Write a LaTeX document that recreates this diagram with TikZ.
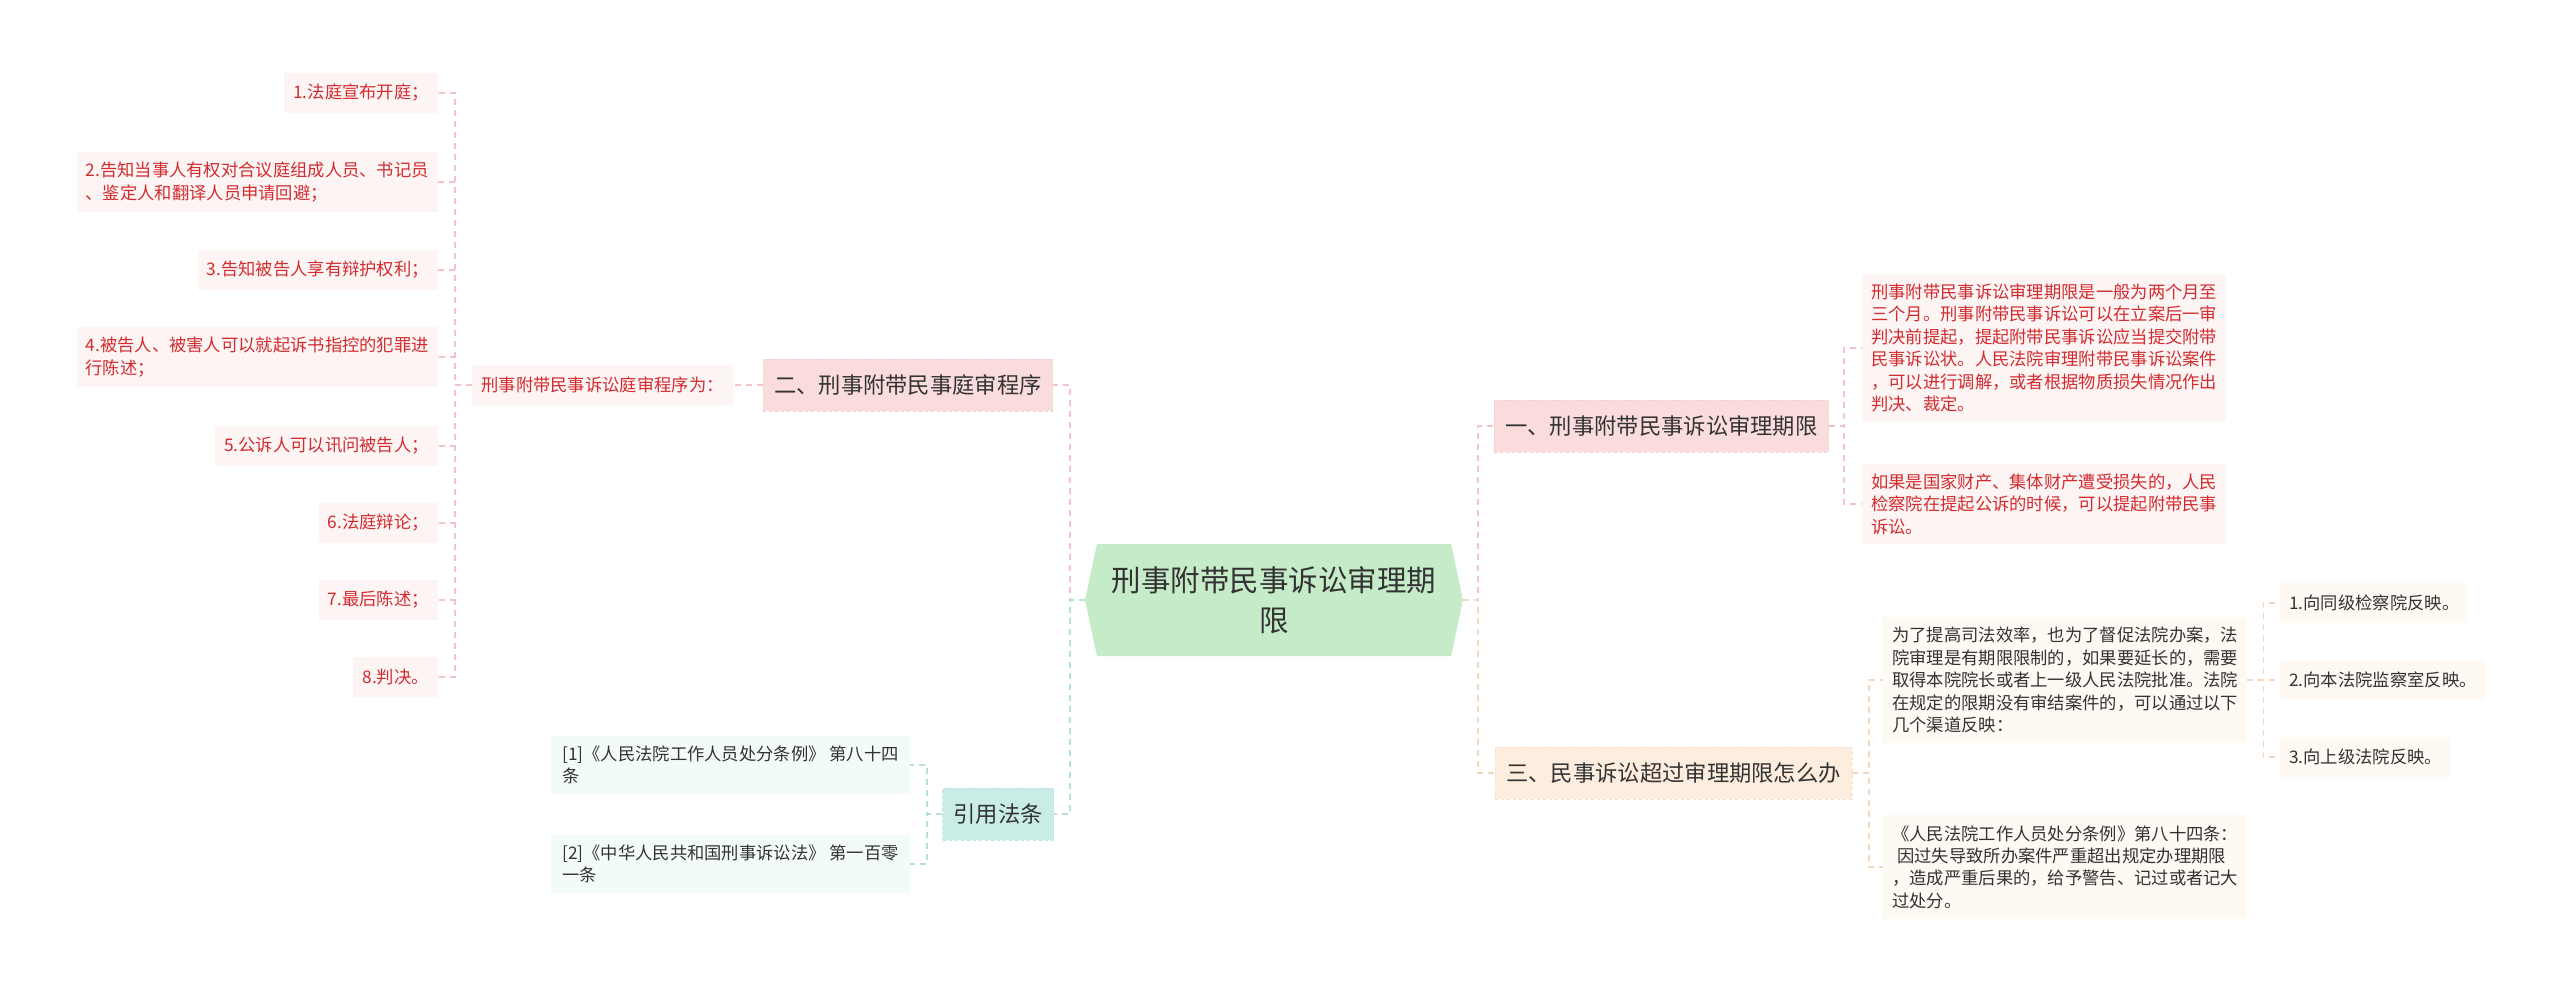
\documentclass[tikz,border=0pt]{standalone}
\usepackage{fontspec}
\newfontfamily\cjk{Noto Sans CJK SC}
\usepackage{xcolor}
\usetikzlibrary{positioning,shapes.symbols}
\definecolor{txt}{HTML}{333333}
\definecolor{redtxt}{HTML}{D22C30}
\definecolor{hubbg}{HTML}{C5EBC8}
\definecolor{pinkbg}{HTML}{FADCDC}
\definecolor{pinkedge}{HTML}{F5CFD0}
\definecolor{pinkln}{HTML}{F2C4C7}
\definecolor{pinklite}{HTML}{FDF4F4}
\definecolor{peachbg}{HTML}{FCEDDF}
\definecolor{peachedge}{HTML}{F8E0CB}
\definecolor{peachln}{HTML}{F5D7BE}
\definecolor{peachlite}{HTML}{FEF9F3}
\definecolor{tealbg}{HTML}{C9ECE6}
\definecolor{tealedge}{HTML}{BCE3DC}
\definecolor{tealln}{HTML}{B4E0D9}
\definecolor{teallite}{HTML}{F3FAFA}
\tikzset{%
  % classes
  hub/.style={shape=signal, signal to=west and east, signal pointer angle=156,
    fill=hubbg, text=txt, align=center, minimum width=378pt, minimum height=112pt,
    inner sep=0pt, font=\cjk\fontsize{29.5}{40}\selectfont},
  topic/.style={draw, dashed, line width=0.6pt, minimum height=52pt, inner xsep=11pt,
    text=txt, font=\cjk\fontsize{22.3}{26}\selectfont},
  pinktopic/.style={topic, fill=pinkbg, draw=pinkedge},
  peachtopic/.style={topic, fill=peachbg, draw=peachedge},
  tealtopic/.style={topic, fill=tealbg, draw=tealedge},
  leaf/.style={align=left, inner xsep=9pt, inner ysep=10pt, minimum height=40pt,
    font=\cjk\fontsize{17.3}{22.4}\selectfont},
  redleaf/.style={leaf, fill=pinklite, text=redtxt},
  peachleaf/.style={leaf, fill=peachlite, text=txt},
  tealleaf/.style={leaf, fill=teallite, text=txt, inner xsep=11pt},
  % edge styles
  link/.style={line width=1.6pt, dash pattern=on 6pt off 5pt},
  pinklink/.style={link, draw=pinkln},
  peachlink/.style={link, draw=peachln},
  teallink/.style={link, draw=tealln},
}

\begin{document}
\begin{tikzpicture}[x=1pt, y=-1pt]
  \fill[white] (0,0) rectangle (2560,995);
  \useasboundingbox (0,0) rectangle (2560,995);

  \node[hub] (hub) at (1274,600) {刑事附带民事诉讼审理期\\限};

  % left: 二 and 引用法条
  \node[pinktopic, anchor=east] (er) at (1053,385) {二、刑事附带民事庭审程序};
  \node[redleaf, left=30pt of er] (proc) {刑事附带民事诉讼庭审程序为：};

  \node[redleaf, anchor=east] (p1) at (438,93) {1.法庭宣布开庭；};
  \node[redleaf, anchor=east] (p2) at (438,182) {2.告知当事人有权对合议庭组成人员、书记员\\、鉴定人和翻译人员申请回避；};
  \node[redleaf, anchor=east] (p3) at (438,270) {3.告知被告人享有辩护权利；};
  \node[redleaf, anchor=east] (p4) at (438,357) {4.被告人、被害人可以就起诉书指控的犯罪进\\行陈述；};
  \node[redleaf, anchor=east] (p5) at (438,446) {5.公诉人可以讯问被告人；};
  \node[redleaf, anchor=east] (p6) at (438,523) {6.法庭辩论；};
  \node[redleaf, anchor=east] (p7) at (438,600) {7.最后陈述；};
  \node[redleaf, anchor=east] (p8) at (438,677) {8.判决。};

  \node[tealtopic, anchor=east] (cite) at (1054,814) {引用法条};
  \node[tealleaf, anchor=east] (ref1) at (910,765) {[1]《人民法院工作人员处分条例》 第八十四\\条};
  \node[tealleaf, anchor=east] (ref2) at (910,864) {[2]《中华人民共和国刑事诉讼法》 第一百零\\一条};

  % right: 一 and 三
  \node[pinktopic, anchor=west] (yi) at (1494,426) {一、刑事附带民事诉讼审理期限};
  \node[redleaf, anchor=west] (term) at (1862,348)
    {刑事附带民事诉讼审理期限是一般为两个月至\\三个月。刑事附带民事诉讼可以在立案后一审\\判决前提起，提起附带民事诉讼应当提交附带\\民事诉讼状。人民法院审理附带民事诉讼案件\\，可以进行调解，或者根据物质损失情况作出\\判决、裁定。};
  \node[redleaf, anchor=west] (state) at (1862,504)
    {如果是国家财产、集体财产遭受损失的，人民\\检察院在提起公诉的时候，可以提起附带民事\\诉讼。};

  \node[peachtopic, anchor=west] (san) at (1495,773) {三、民事诉讼超过审理期限怎么办};
  \node[peachleaf, anchor=west] (why) at (1883,680)
    {为了提高司法效率，也为了督促法院办案，法\\院审理是有期限限制的，如果要延长的，需要\\取得本院院长或者上一级人民法院批准。法院\\在规定的限期没有审结案件的，可以通过以下\\几个渠道反映：};
  \node[peachleaf, anchor=west] (rule) at (1883,867)
    {《人民法院工作人员处分条例》第八十四条：\\\hspace*{5pt}因过失导致所办案件严重超出规定办理期限\\，造成严重后果的，给予警告、记过或者记大\\过处分。};
  \node[peachleaf, anchor=west] (ch1) at (2280,603) {1.向同级检察院反映。};
  \node[peachleaf, anchor=west] (ch2) at (2280,680) {2.向本法院监察室反映。};
  \node[peachleaf, anchor=west] (ch3) at (2280,757) {3.向上级法院反映。};

  % connectors
  \draw[pinklink] (hub.west) -- ++(-15,0) |- (er.east);
  \draw[teallink] (hub.west) -- ++(-15,0) |- (cite.east);
  \draw[pinklink] (hub.east) -- ++(15,0) |- (yi.west);
  \draw[peachlink] (hub.east) -- ++(15,0) |- (san.west);

  \draw[pinklink] (er.west) -- (proc.east);
  \draw[pinklink] (proc.west) -- ++(-17,0) |- (p1.east);
  \draw[pinklink] (proc.west) -- ++(-17,0) |- (p2.east);
  \draw[pinklink] (proc.west) -- ++(-17,0) |- (p3.east);
  \draw[pinklink] (proc.west) -- ++(-17,0) |- (p4.east);
  \draw[pinklink] (proc.west) -- ++(-17,0) |- (p5.east);
  \draw[pinklink] (proc.west) -- ++(-17,0) |- (p6.east);
  \draw[pinklink] (proc.west) -- ++(-17,0) |- (p7.east);
  \draw[pinklink] (proc.west) -- ++(-17,0) |- (p8.east);

  \draw[teallink] (cite.west) -- ++(-15,0) |- (ref1.east);
  \draw[teallink] (cite.west) -- ++(-15,0) |- (ref2.east);

  \draw[pinklink] (yi.east) -- ++(15,0) |- (term.west);
  \draw[pinklink] (yi.east) -- ++(15,0) |- (state.west);

  \draw[peachlink] (san.east) -- ++(17,0) |- (why.west);
  \draw[peachlink] (san.east) -- ++(17,0) |- (rule.west);
  \draw[peachlink] (why.east) -- ++(16,0) |- (ch1.west);
  \draw[peachlink] (why.east) -- ++(16,0) |- (ch2.west);
  \draw[peachlink] (why.east) -- ++(16,0) |- (ch3.west);
\end{tikzpicture}
\end{document}
